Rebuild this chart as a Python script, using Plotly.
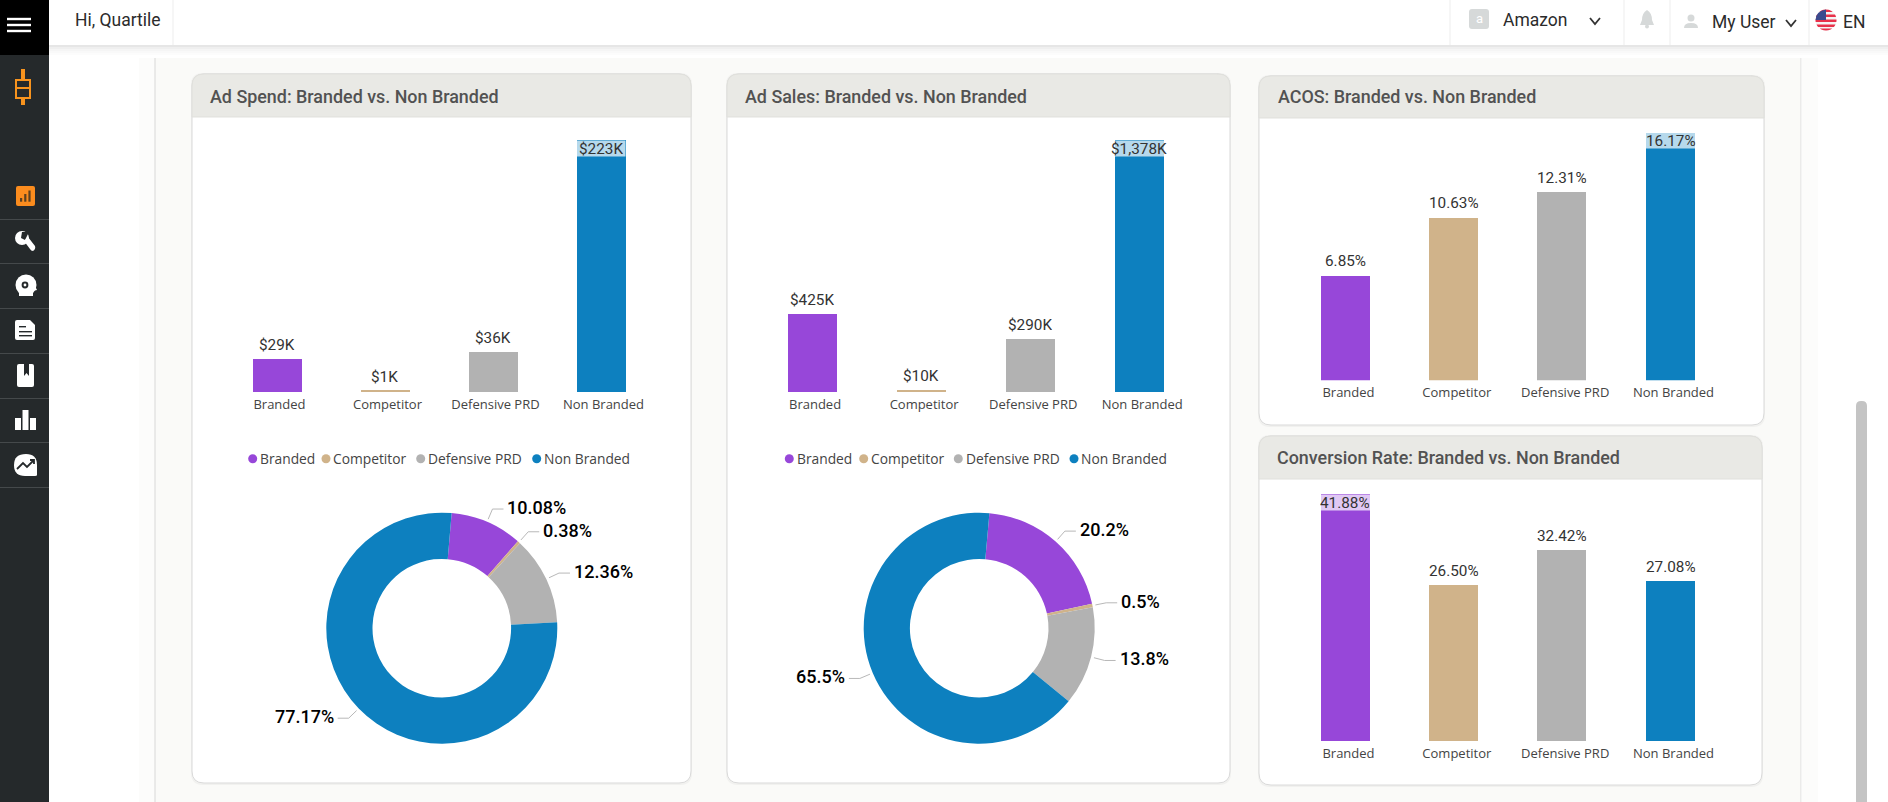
import math
import re
import plotly.graph_objects as go

W, H = 1888, 802

categories = ["Branded", "Competitor", "Defensive PRD", "Non Branded"]
colors = ["#9747D9", "#D0B38A", "#B2B2B2", "#0D80BF"]

ad_spend_values = [29.1, 1.1, 35.7, 223]
ad_spend_labels = ["$29K", "$1K", "$36K", "$223K"]
ad_sales_values = [425, 10, 290, 1378]
ad_sales_labels = ["$425K", "$10K", "$290K", "$1,378K"]
acos_values = [6.85, 10.63, 12.31, 16.17]
acos_labels = ["6.85%", "10.63%", "12.31%", "16.17%"]
conv_values = [41.88, 26.50, 32.42, 27.08]
conv_labels = ["41.88%", "26.50%", "32.42%", "27.08%"]
spend_share = [10.08, 0.38, 12.36, 77.17]
spend_share_labels = ["10.08%", "0.38%", "12.36%", "77.17%"]
sales_share = [20.2, 0.5, 13.8, 65.5]
sales_share_labels = ["20.2%", "0.5%", "13.8%", "65.5%"]

FONT = "Open Sans"
NUM = "Roboto"
shapes = []
annotations = []


def fx(x):
    return x / W


def fy(y):
    return 1 - y / H


def conv(d):
    toks = re.findall(r"[MLQCZ]|-?\d+\.?\d*", d)
    out, isx = [], True
    for t in toks:
        if t in "MLQCZ":
            out.append(t)
            isx = True
        else:
            v = float(t)
            out.append(f"{fx(v):.6f}" if isx else f"{fy(v):.6f}")
            isx = not isx
    return " ".join(out)


def path(d, fill=None, line=None, lw=0, layer="below", rule=None):
    s = dict(type="path", xref="paper", yref="paper", path=conv(d), layer=layer,
             line=dict(color=line or "rgba(0,0,0,0)", width=lw))
    if fill:
        s["fillcolor"] = fill
    if rule:
        s["fillrule"] = rule
    shapes.append(s)


def rect(x0, y0, x1, y1, fill, line=None, lw=0):
    shapes.append(dict(type="rect", xref="paper", yref="paper", x0=fx(x0), x1=fx(x1), y0=fy(y1), y1=fy(y0),
                       fillcolor=fill, layer="below", line=dict(color=line or "rgba(0,0,0,0)", width=lw)))


def circle(cx, cy, r, fill, layer="below"):
    shapes.append(dict(type="circle", xref="paper", yref="paper", x0=fx(cx - r), x1=fx(cx + r), y0=fy(cy + r),
                       y1=fy(cy - r), fillcolor=fill, layer=layer, line=dict(color="rgba(0,0,0,0)", width=0)))


def rrect(x0, y0, x1, y1, r):
    return (f"M {x0 + r} {y0} L {x1 - r} {y0} Q {x1} {y0} {x1} {y0 + r} L {x1} {y1 - r} Q {x1} {y1} {x1 - r} {y1} "
            f"L {x0 + r} {y1} Q {x0} {y1} {x0} {y1 - r} L {x0} {y0 + r} Q {x0} {y0} {x0 + r} {y0} Z")


def text(x, y, s, size, color="#333333", anchor="left", family=FONT, weight=None):
    f = dict(family=family, size=size, color=color)
    if weight:
        f["weight"] = weight
    dx = {"left": -1, "right": 1}.get(anchor, 0)
    annotations.append(dict(x=fx(x + dx), y=fy(y), xref="paper", yref="paper", text=s, showarrow=False,
                            xanchor=anchor, yanchor="middle", font=f, borderpad=0))


# ---- page chrome -------------------------------------------------------
rect(139, 58, 155, H, "#FCFCFB")
rect(155, 58, 1801, H, "#FAFAF8")
rect(154.5, 58, 155.5, H, "#D8D8D8")
rect(1800.5, 58, 1801.5, H, "#DCDCDC")
rect(1801.5, 58, 1818, H, "#FCFCFB")
for i, a in enumerate(["#E6E6E6", "#EFEFEF", "#F5F5F5", "#F9F9F9", "#FCFCFC"]):
    rect(49, 45 + i * 2, W, 47 + i * 2, a)
rect(49, 0, W, 45, "#FFFFFF")
for x in [173, 1450, 1624, 1670, 1809]:
    rect(x - 0.5, 0, x + 0.5, 45, "#EEEEEE")
rect(0, 55, 49, H, "#25292B")
rect(0, 0, 49, 55, "#000000")
for y in [219, 263, 308, 353, 398, 442, 487]:
    rect(0, y, 49, y + 1, "#45494B")
for y in [19, 25, 31]:
    rect(7, y - 1.2, 31, y + 1.2, "#FFFFFF")

# logo
OR = "#F7931E"
path("M 16 80 L 30 80 L 30 98 L 24 98 L 24 104 L 22 104 L 22 98 L 16 98 Z M 22 70 L 24 70 L 24 80 L 22 80 Z", line=OR, lw=2)
path("M 16 88 L 30 88", line=OR, lw=2)
# sidebar icons
path(rrect(16, 186, 35, 206, 2), fill="#FB8C1E")
for a, t in [(20, 198), (24.2, 194), (28.4, 190.5)]:
    rect(a, t, a + 2.2, 201.7, "#5B4020")
WHT = "#FFFFFF"
DK = "#25292B"
circle(22, 238, 7, WHT)
path("M 22 232 L 29 232 L 25 240 L 21 238 Z", fill=DK)
path("M 24 241 L 28 237 L 35 246 Q 36 249 33 251 Q 31 251 30 249 Z", fill=WHT)
circle(26, 285, 10.5, WHT)
path("M 19 290 L 33 290 L 33 296 L 19 296 Z", fill=WHT)
path("M 33 282 L 37 290 L 33 291 Z", fill=WHT)
circle(25, 285, 3.4, DK)
circle(25, 285, 1.4, WHT)
path("M 17 320 L 30 320 L 35 325 L 35 338 Q 35 340 33 340 L 17 340 Q 15 340 15 338 L 15 322 Q 15 320 17 320 Z", fill=WHT)
for y, x1 in [(326, 26), (331, 32), (335, 32)]:
    rect(19, y, x1, y + 1.4, DK)
path(rrect(17, 364, 34, 387, 2), fill=WHT)
path("M 24 364 L 29 364 L 29 376 L 26.5 373 L 24 376 Z", fill=DK)
rect(15, 418, 21, 430, WHT)
rect(22.5, 410, 28.5, 430, WHT)
rect(30, 418, 36, 430, WHT)
path("M 14 465 Q 14 454 26 454 Q 37 454 37 465 L 37 475 Q 37 476 35 476 L 25 476 Q 14 476 14 465 Z", fill=WHT)
path("M 17 469 L 23 463 L 27 467 L 34 460 M 30 460 L 34 460 L 34 464", line=DK, lw=1.8)

# top bar
text(75, 20, "Hi, Quartile", 17.5, "#2B2B2B", family=NUM)
path(rrect(1469, 9, 1489, 29, 3), fill="#D6D9D9")
text(1479, 18, "a", 13, "#FFFFFF", "center", family=NUM)
text(1503, 20, "Amazon", 17.5, "#2B2B2B", family=NUM)
path("M 1590 18 L 1595 24 L 1600 18", line="#333333", lw=1.8)
path("M 1647 10 Q 1652 13 1652 20 L 1654 25 L 1640 25 L 1642 20 Q 1642 13 1647 10 Z", fill="#D6D9D9")
circle(1647, 26.5, 2, "#D6D9D9")
circle(1691, 18, 3.5, "#D6D9D9")
path("M 1684 28 Q 1684 23 1691 23 Q 1698 23 1698 28 Z", fill="#D6D9D9")
text(1712, 22, "My User", 17.5, "#2B2B2B", family=NUM)
path("M 1786 20 L 1791 26 L 1796 20", line="#333333", lw=1.8)


def segment(cx, cy, r, y0, y1):
    pts = []
    n = 8
    for i in range(n + 1):
        y = y0 + (y1 - y0) * i / n
        pts.append((cx + math.sqrt(max(r * r - (y - cy) ** 2, 0)), y))
    for i in range(n, -1, -1):
        y = y0 + (y1 - y0) * i / n
        pts.append((cx - math.sqrt(max(r * r - (y - cy) ** 2, 0)), y))
    return "M " + " L ".join(f"{a:.2f} {b:.2f}" for a, b in pts) + " Z"


circle(1826, 20, 10.5, "#F4F4F4")
for y0, y1 in [(9.5, 12), (14.5, 17), (19.5, 22), (24.5, 27), (28.5, 30.5)]:
    path(segment(1826, 20, 10.5, y0, y1), fill="#E8314A")
path("M 1826 9.5 L 1826 20 L 1815.5 20 Q 1816 11 1826 9.5 Z", fill="#3C4A8E")
text(1843, 22, "EN", 17.5, "#2B2B2B", family=NUM)
path(rrect(1856, 401, 1867, 830, 5), fill="#C4C4C4")


def card(x0, y0, x1, y1, hb, title, tx, ty):
    r = 12
    path(rrect(x0 - 1, y0 - 1, x1 + 1, y1 + 2, r), fill="#F1F1EF")
    path(rrect(x0, y0, x1, y1, r), fill="#FFFFFF", line="#DADADA", lw=1)
    path(f"M {x0} {hb} L {x0} {y0 + r} Q {x0} {y0} {x0 + r} {y0} L {x1 - r} {y0} Q {x1} {y0} {x1} {y0 + r} L {x1} {hb} Z",
         fill="#E9E9E5", line="#E0E0DC", lw=1)
    text(tx, ty, title, 17.9, "#525252", family=NUM, weight=500)


card(192, 74, 691, 783, 117, "Ad Spend: Branded vs. Non Branded", 210, 96.5)
card(727, 74, 1230, 783, 117, "Ad Sales: Branded vs. Non Branded", 745, 96.5)
card(1259, 76, 1764, 425, 118, "ACOS: Branded vs. Non Branded", 1278, 97)
card(1259, 436, 1762, 785, 479, "Conversion Rate: Branded vs. Non Branded", 1277, 457.5)

# ---- bars --------------------------------------------------------------
fig = go.Figure()
LABEL_FONT = dict(family=NUM, size=15.3, color="#333333")
BLANK_FONT = dict(family=NUM, size=9, color="#333333")
TICK_FONT = dict(family=FONT, size=13, color="#444444")


def bars(n, x0, x1, ytop, ybase, values, labels):
    xa, ya = ("x", "y") if n == 1 else (f"x{n}", f"y{n}")
    xl, yl = ("xaxis", "yaxis") if n == 1 else (f"xaxis{n}", f"yaxis{n}")
    fig.add_trace(go.Bar(x=categories, y=values, marker=dict(color=colors, line=dict(width=0)),
                         width=49 / ((x1 - x0) / 4), xaxis=xa, yaxis=ya, showlegend=False, hoverinfo="x+y"))
    fig.layout[xl] = dict(domain=[fx(x0), fx(x1)], anchor=ya, range=[-0.5, 3.5], type="category",
                          categoryorder="array", categoryarray=categories, showgrid=False, zeroline=False,
                          showline=False, ticks="", tickfont=TICK_FONT, ticklabelshift=3, ticklabelstandoff=3,
                          automargin=False, fixedrange=True)
    fig.layout[yl] = dict(domain=[fy(ybase), fy(ytop)], anchor=xa, range=[0, max(values)], visible=False,
                          fixedrange=True)
    vmax = max(values)
    for c, v, l in zip(categories, values, labels):
        top = v == vmax
        common = dict(x=c, y=v, xref=xa, yref=ya, showarrow=False, xanchor="center",
                      yanchor="top" if top else "bottom", borderpad=0)
        if top:
            annotations.append(dict(common, text=" ", width=49, height=15, bgcolor="rgba(255,255,255,0.7)", font=BLANK_FONT))
            annotations.append(dict(common, text=l, font=LABEL_FONT, height=17, yshift=1.5, align="center", valign="middle"))
        else:
            annotations.append(dict(common, text=l, font=LABEL_FONT, height=17, yshift=5, align="center", valign="middle"))


bars(1, 222.5, 654.5, 140, 392, ad_spend_values, ad_spend_labels)
bars(2, 757.5, 1193.8, 140, 392, ad_sales_values, ad_sales_labels)
bars(3, 1291.3, 1724.7, 132.5, 380.3, acos_values, acos_labels)
bars(4, 1291.3, 1724.7, 494, 741.3, conv_values, conv_labels)


# ---- donuts ------------------------------------------------------------
def donut(cx, cy, R, rot, vals, labels):
    fig.add_trace(go.Pie(labels=categories, values=vals, hole=0.6, sort=False, direction="clockwise", rotation=rot,
                         marker=dict(colors=colors, line=dict(width=0)), textinfo="none", showlegend=False,
                         domain=dict(x=[fx(cx - R), fx(cx + R)], y=[fy(cy + R), fy(cy - R)])))
    tot = sum(vals)
    a = rot
    for v, l in zip(vals, labels):
        mid = math.radians(a + v / tot * 180)
        a += v / tot * 360
        s, c = math.sin(mid), math.cos(mid)
        sx, sy = cx + (R + 3) * s, cy - (R + 3) * c
        ex, ey = cx + (R + 14) * s, cy - (R + 14) * c
        d = 1 if s >= 0 else -1
        path(f"M {sx:.2f} {sy:.2f} L {ex:.2f} {ey:.2f} L {ex + d * 11:.2f} {ey:.2f}", line="#B8B8B8", lw=1, layer="above")
        text(ex + d * 15, ey - 1.5, l, 18, "#000000", "left" if d > 0 else "right", family=NUM, weight=500)


donut(441.8, 628.2, 115.5, 4.9, spend_share, spend_share_labels)
donut(979.2, 628.2, 115.5, 5.07, sales_share, sales_share_labels)


# ---- legend keys -------------------------------------------------------
def legend(xs, y=458.7):
    for x, c, n in zip(xs, colors, categories):
        circle(x, y, 4.5, c)
        text(x + 7.3, y, n, 13.8, "#444444")


legend([252.7, 326, 420.7, 536.7])
legend([789.3, 863.7, 958.3, 1074])

fig.update_layout(width=W, height=H, margin=dict(l=0, r=0, t=0, b=0, pad=0), paper_bgcolor="#FFFFFF",
                  plot_bgcolor="rgba(0,0,0,0)", shapes=shapes, annotations=annotations, bargap=0,
                  showlegend=False, autosize=False)

fig.write_html("out.html", config=dict(displayModeBar=False, responsive=False),
               post_script="document.body.style.margin='0';document.body.style.overflow='hidden';")
